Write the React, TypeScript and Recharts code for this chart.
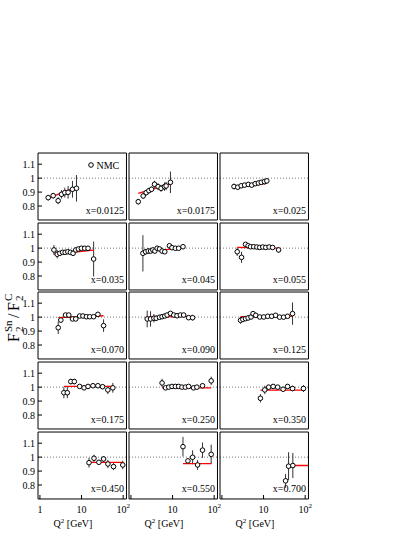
import React from "react";
import { ComposedChart, Scatter, XAxis, YAxis, ReferenceLine, ErrorBar } from "recharts";

const FONT = '"Liberation Serif", "Times New Roman", serif';

const panelLabels = [
  "x=0.0125", "x=0.0175", "x=0.025",
  "x=0.035", "x=0.045", "x=0.055",
  "x=0.070", "x=0.090", "x=0.125",
  "x=0.175", "x=0.250", "x=0.350",
  "x=0.450", "x=0.550", "x=0.700",
];

const xMajorTicks = [1, 10, 100];
const xMinorTicks = [2, 3, 4, 5, 6, 7, 8, 9, 20, 30, 40, 50, 60, 70, 80, 90];
const yMajorTicks = [0.8, 0.9, 1, 1.1];
const yMinorTicks = [0.72, 0.74, 0.76, 0.78, 0.82, 0.84, 0.86, 0.88, 0.92, 0.94, 0.96, 0.98, 1.02, 1.04, 1.06, 1.08, 1.12, 1.14, 1.16];
const xDomain = [0.9, 120];
const yDomain = [0.7, 1.18];

// x = 0.0125
const q1 = [1.58, 2.08, 2.74, 3.3, 3.96, 4.75, 6.05, 7.55];
const r1 = [0.86, 0.874, 0.838, 0.884, 0.896, 0.898, 0.92, 0.927];
const e1 = [0.02, 0.02, 0.025, 0.03, 0.035, 0.045, 0.06, 0.095];
const fq1 = [1.58, 7.55];
const fr1 = [0.857, 0.936];
// x = 0.0175
const q2 = [1.5, 1.97, 2.33, 2.7, 3.13, 3.69, 4.5, 5.3, 6.4, 7.0, 8.9];
const r2 = [0.831, 0.872, 0.896, 0.91, 0.92, 0.956, 0.939, 0.927, 0.939, 0.944, 0.97];
const e2 = [0.02, 0.02, 0.02, 0.02, 0.02, 0.025, 0.025, 0.025, 0.03, 0.03, 0.077];
const fq2 = [1.5, 8.9];
const fr2 = [0.89, 0.958];
// x = 0.025
const q3 = [1.95, 2.4, 2.9, 3.5, 4.3, 5.2, 6.3, 7.5, 8.8, 10.5, 12];
const r3 = [0.94, 0.935, 0.945, 0.95, 0.955, 0.95, 0.96, 0.965, 0.97, 0.975, 0.98];
const e3 = [0.02, 0.015, 0.015, 0.015, 0.015, 0.015, 0.015, 0.015, 0.015, 0.02, 0.02];
const fq3 = [1.95, 12];
const fr3 = [0.928, 0.963];
// x = 0.035
const q4 = [2.17, 2.6, 3.0, 3.5, 4.04, 4.68, 5.4, 6.25, 7.26, 8.4, 9.9, 11.9, 14.3, 19.5];
const r4 = [0.987, 0.956, 0.963, 0.97, 0.97, 0.974, 0.97, 0.963, 0.987, 0.994, 0.999, 0.999, 0.999, 0.922];
const e4 = [0.035, 0.03, 0.015, 0.012, 0.01, 0.01, 0.01, 0.01, 0.01, 0.01, 0.01, 0.01, 0.012, 0.125];
const fq4 = [2.17, 19.5];
const fr4 = [0.955, 0.985];
// x = 0.045
const q5 = [1.94, 2.25, 2.6, 2.97, 3.36, 3.76, 4.26, 4.86, 5.6, 6.5, 8.4, 9.7, 11.7, 14, 17.8];
const r5 = [0.963, 0.974, 0.979, 0.979, 0.987, 0.979, 0.999, 0.994, 0.979, 0.974, 1.017, 1.003, 0.999, 0.999, 1.01];
const e5 = [0.13, 0.02, 0.02, 0.015, 0.015, 0.015, 0.015, 0.012, 0.012, 0.012, 0.012, 0.01, 0.01, 0.01, 0.012];
const fq5 = [1.94, 17.8];
const fr5 = [0.975, 1.0];
// x = 0.055
const q6 = [2.33, 2.96, 3.69, 4.26, 4.87, 5.8, 6.9, 8.1, 9.6, 11.3, 13.6, 16.5, 23];
const r6 = [0.974, 0.934, 1.027, 1.017, 1.01, 1.01, 1.008, 1.005, 1.008, 1.005, 1.008, 1.005, 0.987];
const e6 = [0.03, 0.04, 0.012, 0.01, 0.01, 0.01, 0.01, 0.01, 0.01, 0.01, 0.01, 0.012, 0.02];
const fq6 = [2.33, 23];
const fr6 = [1.005, 1.0];
// x = 0.070
const q7 = [2.75, 3.18, 4.12, 4.94, 6.05, 7.26, 9.0, 10.8, 13.1, 15.7, 19.5, 24.7, 33.8];
const r7 = [0.924, 0.979, 1.015, 1.015, 0.987, 0.987, 1.008, 1.008, 1.003, 1.003, 1.003, 1.02, 0.939];
const e7 = [0.045, 0.02, 0.012, 0.01, 0.01, 0.01, 0.01, 0.01, 0.01, 0.01, 0.012, 0.015, 0.045];
const fq7 = [2.75, 33.8];
const fr7 = [0.997, 1.01];
// x = 0.090
const q8 = [2.46, 2.96, 3.56, 4.04, 4.86, 5.6, 6.5, 7.4, 8.9, 10.7, 12.8, 15.4, 18.5, 24.3, 30.3];
const r8 = [0.987, 0.987, 0.992, 0.992, 0.999, 1.003, 1.008, 1.015, 1.027, 1.015, 1.01, 1.015, 1.015, 0.996, 0.996];
const e8 = [0.06, 0.055, 0.03, 0.02, 0.015, 0.012, 0.01, 0.01, 0.01, 0.01, 0.01, 0.01, 0.01, 0.015, 0.02];
const fq8 = [2.46, 30.3];
const fr8 = [1.0, 1.005];
// x = 0.125
const q9 = [2.8, 3.18, 3.69, 4.26, 5.0, 5.6, 6.5, 8.1, 10.1, 12.6, 15.7, 19.5, 24.3, 30.3, 37.8, 49.7];
const r9 = [0.977, 0.984, 0.989, 0.994, 1.001, 1.025, 1.013, 1.001, 1.001, 1.006, 1.006, 1.013, 1.0, 1.0, 1.006, 1.025];
const e9 = [0.025, 0.015, 0.012, 0.01, 0.01, 0.01, 0.01, 0.01, 0.01, 0.01, 0.01, 0.01, 0.012, 0.012, 0.015, 0.08];
const fq9 = [2.8, 49.7];
const fr9 = [1.003, 1.005];
// x = 0.175
const q10 = [3.76, 4.55, 5.52, 6.7, 9.0, 11.5, 14.3, 18.8, 24.7, 32, 42.8, 56.4];
const r10 = [0.96, 0.96, 1.04, 1.04, 1.005, 0.995, 1.005, 1.01, 1.01, 1.003, 0.98, 0.995];
const e10 = [0.04, 0.04, 0.02, 0.02, 0.01, 0.01, 0.01, 0.01, 0.012, 0.015, 0.03, 0.035];
const fq10 = [3.76, 56.4];
const fr10 = [1.005, 1.005];
// x = 0.250
const q11 = [5.6, 6.8, 8.1, 9.7, 11.7, 14, 16.8, 20.3, 24.3, 32, 38.4, 52.5, 84.7];
const r11 = [1.03, 0.995, 1.0, 1.005, 1.005, 1.005, 1.0, 1.0, 1.005, 0.995, 1.0, 1.01, 1.045];
const e11 = [0.03, 0.012, 0.01, 0.01, 0.01, 0.01, 0.01, 0.01, 0.01, 0.012, 0.015, 0.015, 0.03];
const fq11 = [5.6, 84.7];
const fr11 = [0.995, 0.995];
// x = 0.350
const q12 = [8.4, 10.7, 13.3, 17, 21.8, 29.5, 37.8, 49.7, 91];
const r12 = [0.92, 0.98, 1.0, 1.005, 1.0, 0.985, 1.005, 0.99, 0.99];
const e12 = [0.03, 0.03, 0.015, 0.015, 0.015, 0.015, 0.015, 0.02, 0.025];
const fq12 = [8.4, 91];
const fr12 = [0.978, 0.978];
// x = 0.450
const q13 = [15.1, 19.9, 26.1, 33.8, 42.9, 58.6, 97.7];
const r13 = [0.96, 0.992, 0.963, 0.987, 0.951, 0.932, 0.944];
const e13 = [0.035, 0.025, 0.015, 0.02, 0.03, 0.025, 0.03];
const fq13 = [15.1, 97.7];
const fr13 = [0.963, 0.963];
// x = 0.550
const q14 = [17.8, 23.4, 30.3, 39.9, 52.5, 84.7];
const r14 = [1.075, 0.973, 0.999, 0.944, 1.05, 1.02];
const e14 = [0.07, 0.02, 0.05, 0.035, 0.055, 0.07];
const fq14 = [17.8, 84.7];
const fr14 = [0.953, 0.953];
// x = 0.700
const q15 = [33.8, 39.9, 50.5];
const r15 = [0.83, 0.935, 0.94];
const e15 = [0.05, 0.1, 0.09];
const fq15 = [38, 118];
const fr15 = [0.94, 0.94];

const series = [
  [q1, r1, e1, fq1, fr1], [q2, r2, e2, fq2, fr2], [q3, r3, e3, fq3, fr3],
  [q4, r4, e4, fq4, fr4], [q5, r5, e5, fq5, fr5], [q6, r6, e6, fq6, fr6],
  [q7, r7, e7, fq7, fr7], [q8, r8, e8, fq8, fr8], [q9, r9, e9, fq9, fr9],
  [q10, r10, e10, fq10, fr10], [q11, r11, e11, fq11, fr11], [q12, r12, e12, fq12, fr12],
  [q13, r13, e13, fq13, fr13], [q14, r14, e14, fq14, fr14], [q15, r15, e15, fq15, fr15],
];

// layout
const COL_L = [38, 129, 220];
const PW = 88.5;
const ROW_T = [153, 222.7, 292.4, 362.1, 431.8];
const PH = 67;
const ML = 40, MR = 8, MT = 8, MB = 30;
const AX = 0.01;

const XTick = (props: any) => {
  const { x, y, payload, showOne } = props;
  const v = payload.value;
  if (v === 1 && !showOne) return <g />;
  return (
    <text x={x} y={y} textAnchor="middle" dominantBaseline="hanging" fontSize={10} fontFamily={FONT} fill="#000">
      {v === 100 ? (
        <>
          10<tspan dy={-3} fontSize={7}>2</tspan>
        </>
      ) : (
        String(v)
      )}
    </text>
  );
};

const YTick = (props: any) => {
  const { x, y, payload } = props;
  return (
    <text x={x} y={y} textAnchor="end" dominantBaseline="central" fontSize={10} fontFamily={FONT} fill="#000">
      {String(payload.value)}
    </text>
  );
};

const Dot = (props: any) => {
  const { cx, cy } = props;
  if (cx == null || cy == null) return <g />;
  return <circle cx={cx} cy={cy} r={2.3} fill="#fff" stroke="#000" strokeWidth={1} />;
};

const NoShape = () => <g />;

function Panel({ idx }: { idx: number }) {
  const row = Math.floor(idx / 3);
  const col = idx % 3;
  const [q, r, e, fq, fr] = series[idx];
  const pts = q.map((v, i) => ({ q: v, r: r[i], e: e[i] }));
  const fit = fq.map((v, i) => ({ q: v, r: fr[i] }));
  const line = { stroke: "#000", strokeWidth: 1 };
  return (
    <div style={{ position: "absolute", left: COL_L[col] - ML, top: ROW_T[row] - MT }}>
      <ComposedChart
        width={PW + ML + MR}
        height={PH + MT + MB}
        margin={{ left: ML, right: MR, top: MT, bottom: MB }}
      >
        <XAxis
          xAxisId="b" dataKey="q" type="number" scale="log" domain={xDomain} allowDataOverflow
          ticks={xMajorTicks} interval={0} height={AX} tickSize={-4} tickMargin={11}
          axisLine={line} tickLine={line}
          tick={row === 4 ? (p: any) => <XTick {...p} showOne={col === 0} /> : false}
        />
        <XAxis
          xAxisId="bm" type="number" scale="log" domain={xDomain} allowDataOverflow
          ticks={xMinorTicks} interval={0} height={AX} tickSize={-2} axisLine={false} tickLine={line} tick={false}
        />
        <XAxis
          xAxisId="t" orientation="top" type="number" scale="log" domain={xDomain} allowDataOverflow
          ticks={xMajorTicks} interval={0} height={AX} tickSize={-4} axisLine={line} tickLine={line} tick={false}
        />
        <XAxis
          xAxisId="tm" orientation="top" type="number" scale="log" domain={xDomain} allowDataOverflow
          ticks={xMinorTicks} interval={0} height={AX} tickSize={-2} axisLine={false} tickLine={line} tick={false}
        />
        <YAxis
          yAxisId="l" dataKey="r" type="number" domain={yDomain} allowDataOverflow
          ticks={yMajorTicks} interval={0} width={AX} tickSize={-4} tickMargin={7}
          axisLine={line} tickLine={line}
          tick={col === 0 ? (p: any) => <YTick {...p} /> : false}
        />
        <YAxis
          yAxisId="lm" type="number" domain={yDomain} allowDataOverflow
          ticks={yMinorTicks} interval={0} width={AX} tickSize={-2} axisLine={false} tickLine={line} tick={false}
        />
        <YAxis
          yAxisId="r" orientation="right" type="number" domain={yDomain} allowDataOverflow
          ticks={yMajorTicks} interval={0} width={AX} tickSize={-4} axisLine={line} tickLine={line} tick={false}
        />
        <YAxis
          yAxisId="rm" orientation="right" type="number" domain={yDomain} allowDataOverflow
          ticks={yMinorTicks} interval={0} width={AX} tickSize={-2} axisLine={false} tickLine={line} tick={false}
        />
        <ReferenceLine xAxisId="b" yAxisId="l" y={1} stroke="#777" strokeWidth={1} strokeDasharray="1 2" />
        <Scatter
          xAxisId="b" yAxisId="l" data={fit} line={{ stroke: "#ff0000", strokeWidth: 1.3 }}
          lineType="joint" shape={NoShape} isAnimationActive={false}
        />
        <Scatter xAxisId="b" yAxisId="l" data={pts} shape={Dot} isAnimationActive={false}>
          <ErrorBar dataKey="e" direction="y" width={0} stroke="#333" strokeWidth={1} isAnimationActive={false} />
        </Scatter>
      </ComposedChart>
    </div>
  );
}

export default function App() {
  return (
    <div style={{ position: "absolute", left: 0, top: 0, width: 415, height: 536, background: "#fff", overflow: "hidden" }}>
      {panelLabels.map((_, i) => (
        <Panel key={i} idx={i} />
      ))}
      <svg width={415} height={536} style={{ position: "absolute", left: 0, top: 0, pointerEvents: "none" }}>
        {panelLabels.map((lab, i) => {
          const row = Math.floor(i / 3);
          const col = i % 3;
          return (
            <text
              key={lab} x={COL_L[col] + PW - 2.5} y={ROW_T[row] + PH - 6.5}
              textAnchor="end" fontSize={10} fontFamily={FONT} fill="#000"
            >
              {lab}
            </text>
          );
        })}
        <circle cx={COL_L[0] + 53} cy={ROW_T[0] + 12} r={2.3} fill="#fff" stroke="#000" strokeWidth={1} />
        <text x={COL_L[0] + 58.5} y={ROW_T[0] + 15.5} fontSize={10} fontFamily={FONT} fill="#000">NMC</text>
        {COL_L.map((l, c) => (
          <text key={c} x={l + 35} y={527} textAnchor="middle" fontSize={10} fontFamily={FONT} fill="#000">
            Q<tspan dy={-4} fontSize={7}>2</tspan>
            <tspan dy={4}> [GeV]</tspan>
          </text>
        ))}
        <g transform="translate(19,318) rotate(-90)" fontFamily={FONT} fill="#000">
          <text x={-24} y={0} fontSize={16}>F</text>
          <text x={-14} y={-7} fontSize={11}>Sn</text>
          <text x={-14} y={4} fontSize={11}>2</text>
          <text x={0} y={0} fontSize={16}>/</text>
          <text x={7} y={0} fontSize={16}>F</text>
          <text x={17} y={-7} fontSize={11}>C</text>
          <text x={17} y={4} fontSize={11}>2</text>
        </g>
      </svg>
    </div>
  );
}
